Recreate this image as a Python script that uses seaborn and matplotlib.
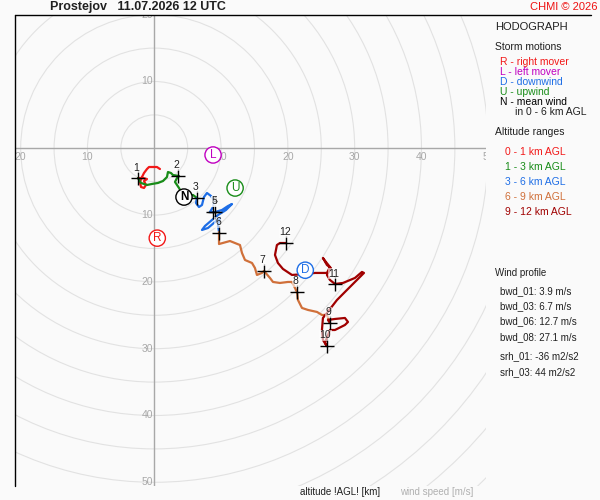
import numpy as np
import seaborn as sns
import matplotlib.pyplot as plt
from matplotlib.lines import Line2D
from matplotlib.patches import Circle

# hodograph traces (u, v in m/s) per altitude layer
u_0_1 = [0.85, 0.40, -0.79, -1.09, -1.54, -1.84, -2.14, -1.99, -1.54, -1.24, -1.54, -1.09, -1.69, -2.44]
v_0_1 = [-3.10, -2.80, -2.80, -3.10, -3.70, -4.30, -5.04, -5.79, -5.94, -5.49, -4.90, -4.60, -4.45, -4.45]
u_1_3 = [-2.44, -1.99, -1.09, -0.34, 0.55, 1.30, 1.90, 2.05, 2.50, 2.80, 3.70, 3.40, 3.10, 3.40, 3.70, 4.15, 4.90, 5.79, 6.39]
v_1_3 = [-4.45, -5.19, -5.49, -5.34, -5.19, -4.90, -4.30, -3.55, -3.70, -4.00, -4.15, -4.45, -5.04, -5.49, -5.94, -6.69, -6.99, -6.99, -7.44]
u_3_6 = [6.39, 6.24, 6.69, 7.14, 7.44, 7.89, 8.49, 8.94, 8.79, 8.34, 9.09, 10.13, 11.03, 11.63, 10.73, 9.54,
         8.64, 7.59, 7.14, 8.04, 9.09, 9.83, 9.54, 9.69]
v_3_6 = [-7.44, -8.19, -8.79, -8.49, -7.29, -6.69, -7.14, -7.89, -8.79, -9.54, -9.54, -9.24, -8.64, -8.34, -9.24, -9.99,
         -10.73, -11.63, -12.23, -11.93, -11.03, -10.43, -11.48, -12.53]
u_6_9 = [9.69, 9.69, 11.33, 12.83, 13.13, 13.58, 14.63, 15.07, 15.37, 16.12, 16.42, 17.32, 17.77, 18.81, 20.01,
         20.61, 21.06, 21.36, 21.51, 22.11, 23.01, 24.36, 25.10, 25.85, 26.30]
v_6_9 = [-12.53, -14.33, -13.88, -14.48, -15.67, -16.72, -17.17, -17.92, -18.96, -18.66, -18.36, -19.41, -20.01,
         -20.16, -20.01, -20.01, -20.91, -21.51, -22.71, -23.90, -24.20, -24.50, -24.95, -24.95, -26.15]
u_9_12 = [26.30, 26.00, 27.05, 28.54, 29.00, 28.54, 27.05, 26.30, 25.55, 25.85, 25.25, 25.10, 25.25, 25.85, 27.35,
          28.84, 30.34, 31.09, 31.39, 31.09, 30.04, 28.25, 27.05, 26.30, 25.85, 26.45, 25.85, 25.25, 25.70, 26.30,
          25.85, 25.25, 24.05, 22.86, 20.61, 19.26, 18.51, 18.07, 18.36, 18.81, 19.71]
v_9_12 = [-26.15, -25.70, -25.55, -25.40, -26.00, -26.45, -27.20, -27.20, -29.14, -29.60, -28.70, -27.20, -25.40,
          -24.65, -22.71, -21.21, -19.71, -18.96, -18.66, -18.51, -19.41, -20.16, -20.31, -19.71, -18.96, -17.92,
          -17.47, -16.42, -17.02, -17.77, -18.66, -18.66, -18.66, -18.81, -18.96, -18.06, -17.17, -15.97, -14.48,
          -14.18, -14.18]

# wind at whole kilometres
km_labels = ['1', '2', '3', '4', '5', '6', '7', '8', '9', '10', '11', '12']
km_u = [-2.49, 3.59, 6.35, 8.79, 9.16, 9.73, 16.42, 21.36, 26.30, 25.81, 27.05, 19.79]
km_v = [-4.49, -4.10, -7.40, -9.54, -9.54, -12.63, -18.37, -21.51, -26.15, -29.60, -20.36, -14.13]

# storm motions
storm_letters = ['R', 'L', 'D', 'U', 'N']
storm_u = [0.45, 8.8, 22.6, 12.1, 4.45]
storm_v = [-13.45, -1.0, -18.25, -5.95, -7.3]

layer_names = ['0 - 1 km AGL', '1 - 3 km AGL', '3 - 6 km AGL', '6 - 9 km AGL', '9 - 12 km AGL']
wind_profile = ['bwd_01: 3.9 m/s', 'bwd_03: 6.7 m/s', 'bwd_06: 12.7 m/s', 'bwd_08: 27.1 m/s',
                'srh_01: -36 m2/s2', 'srh_03: 44 m2/s2']
x_ticks = [-20, -10, 10, 20, 30, 40, 50]
y_ticks = [20, 10, -10, -20, -30, -40, -50]

RED = '#f21818'
GREEN = '#188c18'
BLUE = '#1e6ee6'
ORANGE = '#d0703a'
DARKRED = '#a00000'
PURPLE = '#c000c0'
layer_colors = [RED, GREEN, BLUE, ORANGE, DARKRED]
storm_colors = [RED, PURPLE, BLUE, GREEN, 'black']

sns.set_theme(style='white')
plt.rcParams['font.family'] = ['Liberation Sans', 'DejaVu Sans']
BG = '#fafafa'

fig = plt.figure(figsize=(6, 5), dpi=100, facecolor=BG)
ax = fig.add_axes([15 / 600, 1 - 486 / 500, 471 / 600, 471 / 500])
ax.set_facecolor(BG)
ax.set_xlim(-20.85, 49.66)
ax.set_ylim(-50.55, 19.95)
ax.set_aspect('equal')
for s in ax.spines.values():
    s.set_visible(False)
ax.set_xticks([]); ax.set_yticks([])

# speed rings
for r in range(5, 75, 5):
    ax.add_patch(Circle((0, 0), r, fill=False, ec='#e2e2e2', lw=0.8, zorder=1))
ax.axhline(0, color='#a8a8a8', lw=1, zorder=2)
ax.axvline(0, color='#a8a8a8', lw=1, zorder=2)
for t in x_ticks:
    ax.annotate(str(abs(t)), (t, 0), xytext=(0, -3), textcoords='offset points', ha='center', va='top',
                fontsize=7.5, color='#a8a8a8', annotation_clip=False, clip_on=True, zorder=2)
for t in y_ticks:
    ax.annotate(str(abs(t)), (0, t), xytext=(-1, 0), textcoords='offset points', ha='right', va='center',
                fontsize=7.5, color='#a8a8a8', annotation_clip=False, clip_on=True, zorder=2)

# traces
layers = [(u_0_1, v_0_1), (u_1_3, v_1_3), (u_3_6, v_3_6), (u_6_9, v_6_9), (u_9_12, v_9_12)]
for (u, v), c in zip(layers, layer_colors):
    sns.lineplot(x=u, y=v, sort=False, estimator=None, color=c, lw=1.6, ax=ax, zorder=3)

sns.scatterplot(x=km_u, y=km_v, marker='+', s=110, color='black', linewidth=1, ax=ax, zorder=5)
for lab, u, v in zip(km_labels, km_u, km_v):
    dx = 1 if lab == '4' else -1
    ax.annotate(lab, (u, v), xytext=(dx, 4), textcoords='offset points', ha='center', va='bottom',
                fontsize=7.5, color='#202020', zorder=6,
                bbox=dict(boxstyle='square,pad=0.05', fc='white', ec='none', alpha=0.6))

for lab, u, v, c in zip(storm_letters, storm_u, storm_v, storm_colors):
    ax.text(u, v, lab, ha='center', va='center', fontsize=8.5, color=c, zorder=7,
            fontweight='bold' if lab == 'N' else 'normal',
            bbox=dict(boxstyle='circle,pad=0.18', fc='white', ec=c, lw=1))

# frame lines
fig.add_artist(Line2D([15 / 600, 15 / 600], [1 - 15 / 500, 1 - 486 / 500], color='black', lw=1))
fig.add_artist(Line2D([15 / 600, 591 / 600], [1 - 15 / 500, 1 - 15 / 500], color='black', lw=1))


def ftext(x, y, s, **kw):
    fig.text(x / 600, 1 - y / 500, s, va='center', **kw)


ftext(50, 7, 'Prostejov   11.07.2026 12 UTC', fontsize=9, fontweight='bold', color='#202020')
ftext(598, 7, 'CHMI © 2026', fontsize=8, color='#ee1111', ha='right')
ftext(495, 27, 'HODOGRAPH', fontsize=8, color='#202020')
ftext(495, 47, 'Storm motions', fontsize=7.5, color='#202020')
motion_text = ['R - right mover', 'L - left mover', 'D - downwind', 'U - upwind', 'N - mean wind']
for i, (s, c) in enumerate(zip(motion_text, storm_colors)):
    ftext(500, 62 + 10 * i, s, fontsize=7.5, color=c)
ftext(515, 112, 'in 0 - 6 km AGL', fontsize=7.5, color='#202020')
ftext(495, 132, 'Altitude ranges', fontsize=7.5, color='#202020')
for i, (s, c) in enumerate(zip(layer_names, layer_colors)):
    ftext(505, 152 + 15 * i, s, fontsize=7.5, color=c)
ftext(495, 273, 'Wind profile', fontsize=7, color='#202020')
prof_y = [291, 306, 321, 337, 356, 372]
for s, y in zip(wind_profile, prof_y):
    ftext(500, y, s, fontsize=7, color='#202020')
ftext(300, 492, 'altitude !AGL! [km]', fontsize=7, color='#202020')
ftext(400, 492, 'wind speed [m/s]', fontsize=7, color='#b0b0b0')

fig.savefig('out.png', dpi=100, facecolor=BG)
